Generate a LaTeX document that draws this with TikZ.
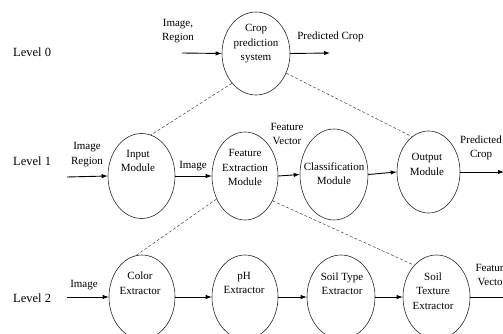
\documentclass[tikz,border=0pt]{standalone}
\usepackage{fontspec}
\setmainfont{Liberation Serif}
\usetikzlibrary{shapes.geometric,arrows.meta}
\begin{document}
\begin{tikzpicture}[x=1pt,y=-1pt,
  ell/.style={ellipse,draw=black!85,line width=0.6pt,inner sep=0pt},
  txt/.style={align=center,inner sep=0pt,font=\fontsize{11}{14.5}\selectfont},
  lvl/.style={anchor=west,inner sep=0pt,font=\fontsize{12.5}{14}\selectfont},
  flow/.style={line width=0.9pt,-{Latex[length=6pt,width=4.5pt]}},
  dsh/.style={line width=0.5pt,draw=black!75,dash pattern=on 3pt off 2pt}]
\useasboundingbox (0,0) rectangle (503,334);
\clip (0,0) rectangle (503,334);
% level labels
\node[lvl] (l0) at (13,52) {Level 0};
\node[lvl] (l1) at (13,161) {Level 1};
\node[lvl] (l2) at (13,298) {Level 2};
% level 0
\node[ell,minimum width=68pt,minimum height=83pt] (crop) at (256,53.5) {};
\node[txt] (cropt) at (256,44) {Crop\\prediction\\system};
\coordinate (in0) at (182,53);
\coordinate (out0) at (330,53);
\node[txt] (in0t) at (178,31) {Image,\\Region};
\node[txt] (out0t) at (330.5,37) {Predicted Crop};
\draw[flow] (in0) -- (crop.west);
\draw[flow] (crop.east) -- (out0);
% level 1
\node[ell,minimum width=67pt,minimum height=85pt] (inp) at (141.5,176) {};
\node[ell,minimum width=66pt,minimum height=88pt] (feat) at (245,176) {};
\node[ell,minimum width=68pt,minimum height=91pt] (cls) at (334,174.5) {};
\node[ell,minimum width=63pt,minimum height=82pt] (outm) at (428.5,172) {};
\node[txt] (inpt) at (138,161) {Input\\Module};
\node[txt] (featt) at (245,167.5) {Feature\\Extraction\\Module};
\node[txt] (clst) at (334,173.5) {Classification\\Module};
\node[txt] (outmt) at (427,164.5) {Output\\Module};
\coordinate (in1) at (67,177);
\coordinate (out1) at (504,172);
\node[txt] (in1t) at (87,154.5) {Image\\Region};
\node[txt] (imgt) at (193,166) {Image};
\node[txt] (fvt) at (287,134) {Feature\\Vector};
\node[txt] (pct) at (481,148) {Predicted\\Crop};
\draw[flow] (in1) -- (inp.west);
\draw[flow] (inp.east) -- (feat.west);
\draw[flow] (feat.east) -- (cls.west);
\draw[flow] (cls.east) -- (outm.west);
\draw[flow] (outm.east) -- (out1);
% level 2
\node[ell,minimum width=66pt,minimum height=84pt] (col) at (142,297) {};
\node[ell,minimum width=66pt,minimum height=84pt] (ph) at (245,297) {};
\node[ell,minimum width=68pt,minimum height=84pt] (st) at (341,297) {};
\node[ell,minimum width=67pt,minimum height=84pt] (tex) at (436.5,297) {};
\node[txt] (colt) at (140,283) {Color\\Extractor};
\node[txt] (pht) at (244,283) {pH\\Extractor};
\node[txt] (stt) at (342,283.5) {Soil Type\\Extractor};
\node[txt] (text) at (433,291) {Soil\\Texture\\Extractor};
\coordinate (in2) at (67,297);
\coordinate (out2) at (515,297);
\node[txt] (in2t) at (84,285) {Image};
\node[txt] (fv2t) at (492,275) {Feature\\Vector};
\draw[flow] (in2) -- (col.west);
\draw[flow] (col.east) -- (ph.west);
\draw[flow] (ph.east) -- (st.west);
\draw[flow] (st.east) -- (tex.west);
\draw[flow] (tex.east) -- (out2);
% decomposition links
\draw[dsh] (crop.231) -- (inp.77);
\draw[dsh] (crop.327) -- (outm.115);
\draw[dsh] (feat.219) -- (col.98);
\draw[dsh] (feat.318) -- (tex.125);
\end{tikzpicture}
\end{document}
